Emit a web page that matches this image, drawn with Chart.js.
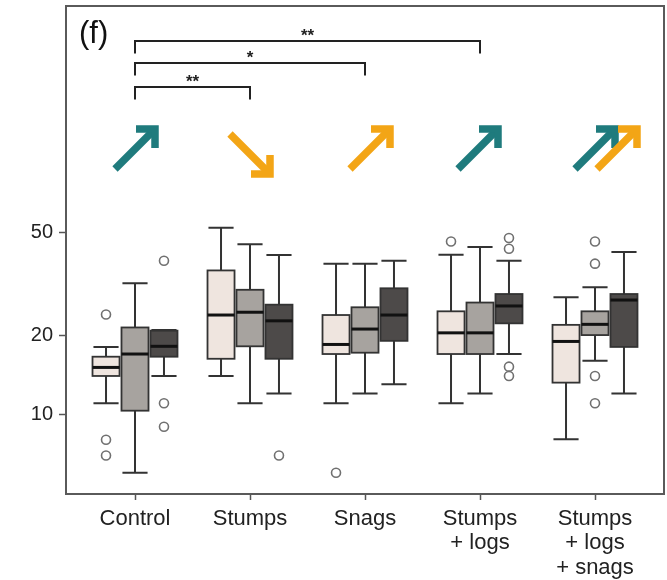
<!DOCTYPE html>
<html>
<head>
<meta charset="utf-8">
<script src="https://cdn.jsdelivr.net/npm/chart.js@4"></script>
<style>
  body { margin: 0; background: #fff; }
  canvas { display: block; }
</style>
</head>
<body>
<canvas id="boxChart" width="667" height="580"></canvas>
<script>
  // Treatments along the x axis
  const groupLabels = ['Control', 'Stumps', 'Snags', ['Stumps', '+ logs'], ['Stumps', '+ logs', '+ snags']];

  // Box summaries per treatment: [lower whisker, Q1, median, Q3, upper whisker]
  const lightBoxes = [[11.0, 14.0, 15.1, 16.6, 18.1], [14.0, 16.3, 24.0, 35.6, 51.9], [11.0, 17.0, 18.5, 24.0, 37.8], [11.0, 17.0, 20.5, 24.8, 40.9], [8.0, 13.2, 19.0, 22.0, 28.1]];
  const midBoxes = [[5.95, 10.3, 17.0, 21.5, 31.8], [11.0, 18.2, 24.6, 30.0, 44.9], [12.0, 17.2, 21.2, 25.7, 37.8], [12.0, 17.0, 20.5, 26.8, 43.8], [16.0, 20.1, 22.1, 24.8, 30.7]];
  const darkBoxes = [[14.0, 16.6, 18.2, 20.9, 21.0], [12.0, 16.3, 22.8, 26.3, 40.8], [13.0, 19.1, 24.0, 30.4, 38.8], [17.0, 22.3, 26.0, 28.9, 38.8], [12.0, 18.1, 27.4, 28.9, 41.9]];

  // Outliers: [treatment number, value]
  const lightOutliers = [[1, 24.1], [1, 7.96], [1, 6.93], [3, 5.95], [4, 46.0]];
  const midOutliers = [[5, 46.0], [5, 37.8], [5, 14.0], [5, 11.0]];
  const darkOutliers = [[1, 38.8], [1, 11.0], [1, 8.94], [2, 6.93], [4, 47.4], [4, 43.1], [4, 15.2], [4, 14.0]];

  const yTicks = [10, 20, 50];

  // Comparisons against the control
  const brackets = [
    { from: 1, to: 2, stars: '**' },
    { from: 1, to: 3, stars: '*' },
    { from: 1, to: 4, stars: '**' }
  ];

  // Trend arrows over each treatment
  const teal = '#1f7b7d';
  const orange = '#f3a516';
  const trends = [
    { group: 1, dir: 'up', color: teal, shift: 0 },
    { group: 2, dir: 'down', color: orange, shift: 0 },
    { group: 3, dir: 'up', color: orange, shift: 5 },
    { group: 4, dir: 'up', color: teal, shift: -2 },
    { group: 5, dir: 'up', color: teal, shift: 0 },
    { group: 5, dir: 'up', color: orange, shift: 22 }
  ];

  const series = [
    { boxes: lightBoxes, outliers: lightOutliers, fill: '#efe5df', offset: -0.252 },
    { boxes: midBoxes, outliers: midOutliers, fill: '#a7a39f', offset: 0 },
    { boxes: darkBoxes, outliers: darkOutliers, fill: '#4d4a49', offset: 0.252 }
  ];
  const boxWidth = 0.235;
  const font = 'Liberation Sans, Arial, sans-serif';

  const boxPlugin = {
    id: 'boxes',
    beforeDatasetsDraw(chart) {
      const { ctx, scales: { x, y } } = chart;
      const half = (x.getPixelForValue(boxWidth) - x.getPixelForValue(0)) / 2;
      const cap = half * 0.93;
      ctx.save();
      series.forEach(s => {
        s.boxes.forEach((b, i) => {
          const cx = x.getPixelForValue(i + 1 + s.offset);
          const [lo, q1, med, q3, hi] = b.map(v => y.getPixelForValue(v));
          ctx.strokeStyle = '#333';
          ctx.lineWidth = 2;
          ctx.beginPath();
          ctx.moveTo(cx, lo); ctx.lineTo(cx, q1);
          ctx.moveTo(cx, q3); ctx.lineTo(cx, hi);
          ctx.moveTo(cx - cap, lo); ctx.lineTo(cx + cap, lo);
          ctx.moveTo(cx - cap, hi); ctx.lineTo(cx + cap, hi);
          ctx.stroke();
          ctx.fillStyle = s.fill;
          ctx.fillRect(cx - half, q3, half * 2, q1 - q3);
          ctx.lineWidth = 1.8;
          ctx.strokeRect(cx - half, q3, half * 2, q1 - q3);
          ctx.strokeStyle = '#111';
          ctx.lineWidth = 3;
          ctx.beginPath();
          ctx.moveTo(cx - half, med); ctx.lineTo(cx + half, med);
          ctx.stroke();
        });
      });
      ctx.restore();
    }
  };

  function drawArrow(ctx, cx, cy, dir, color) {
    const h = 20;           // half extent of the shaft
    const arm = 19;
    const sy = dir === 'up' ? 1 : -1;
    const tail = [cx - h, cy + sy * h];
    const tip = [cx + h, cy - sy * h];
    ctx.strokeStyle = color;
    ctx.lineWidth = 7.5;
    ctx.lineCap = 'butt';
    ctx.lineJoin = 'miter';
    ctx.beginPath();
    ctx.moveTo(tail[0], tail[1]);
    ctx.lineTo(tip[0] - 3, tip[1] + sy * 3);
    ctx.stroke();
    ctx.beginPath();
    ctx.moveTo(tip[0] - arm, tip[1]);
    ctx.lineTo(tip[0], tip[1]);
    ctx.lineTo(tip[0], tip[1] + sy * arm);
    ctx.stroke();
  }

  const annotationPlugin = {
    id: 'annotations',
    afterDraw(chart) {
      const { ctx, chartArea: a, scales: { x } } = chart;
      ctx.save();
      // frame
      ctx.strokeStyle = '#5a5a5a';
      ctx.lineWidth = 2;
      ctx.strokeRect(a.left, a.top, a.right - a.left, a.bottom - a.top);

      // panel letter
      ctx.fillStyle = '#111';
      ctx.font = '31px ' + font;
      ctx.textAlign = 'left';
      ctx.textBaseline = 'alphabetic';
      ctx.fillText('(f)', 79, 43);

      // significance brackets
      const levels = [81, 57, 35];
      brackets.forEach((br, i) => {
        const x1 = x.getPixelForValue(br.from);
        const x2 = x.getPixelForValue(br.to);
        const yy = a.top + levels[i];
        ctx.strokeStyle = '#222';
        ctx.lineWidth = 2;
        ctx.beginPath();
        ctx.moveTo(x1, yy + 12.5);
        ctx.lineTo(x1, yy);
        ctx.lineTo(x2, yy);
        ctx.lineTo(x2, yy + 12.5);
        ctx.stroke();
        ctx.fillStyle = '#222';
        ctx.font = 'bold 17px ' + font;
        ctx.textAlign = 'center';
        ctx.fillText(br.stars, (x1 + x2) / 2, yy);
      });

      // trend arrows; falling ones sit a little lower
      trends.forEach(t => {
        const cy = a.top + (t.dir === 'up' ? 143 : 148);
        drawArrow(ctx, x.getPixelForValue(t.group) + t.shift, cy, t.dir, t.color);
      });
      ctx.restore();
    }
  };

  const toPoints = list => list.map(([g, v]) => ({ x: g, y: v }));

  new Chart(document.getElementById('boxChart'), {
    type: 'scatter',
    data: {
      datasets: series.map(s => ({
        data: toPoints(s.outliers).map(p => ({ x: p.x + s.offset, y: p.y })),
        pointRadius: 4.5,
        pointBackgroundColor: '#fff',
        pointBorderColor: '#707070',
        pointBorderWidth: 1.6
      }))
    },
    options: {
      responsive: false,
      animation: false,
      layout: { autoPadding: false, padding: { top: 6, right: 3, left: 0, bottom: 0 } },
      plugins: { legend: { display: false }, tooltip: { enabled: false } },
      scales: {
        x: {
          type: 'linear',
          min: 0.4,
          max: 5.6,
          afterFit: s => { s.height = 86; s.paddingLeft = 0; s.paddingRight = 0; },
          afterBuildTicks: s => { s.ticks = groupLabels.map((_, i) => ({ value: i + 1 })); },
          border: { display: false },
          grid: { drawOnChartArea: false, tickLength: 6, tickColor: '#555', tickWidth: 1.5 },
          ticks: {
            autoSkip: false,
            maxRotation: 0,
            padding: 7,
            color: '#222',
            font: { family: font, size: 22, lineHeight: 1.1 },
            callback: v => groupLabels[v - 1]
          }
        },
        y: {
          type: 'logarithmic',
          min: 4.93,
          max: 369,
          afterFit: s => { s.width = 66; s.paddingTop = 0; s.paddingBottom = 0; },
          afterBuildTicks: s => { s.ticks = yTicks.map(v => ({ value: v })); },
          border: { display: false },
          grid: { drawOnChartArea: false, tickLength: 7, tickColor: '#555', tickWidth: 1.5 },
          ticks: {
            padding: 6,
            color: '#222',
            font: { family: font, size: 20 },
            callback: v => String(v)
          }
        }
      }
    },
    plugins: [boxPlugin, annotationPlugin]
  });
</script>
</body>
</html>
